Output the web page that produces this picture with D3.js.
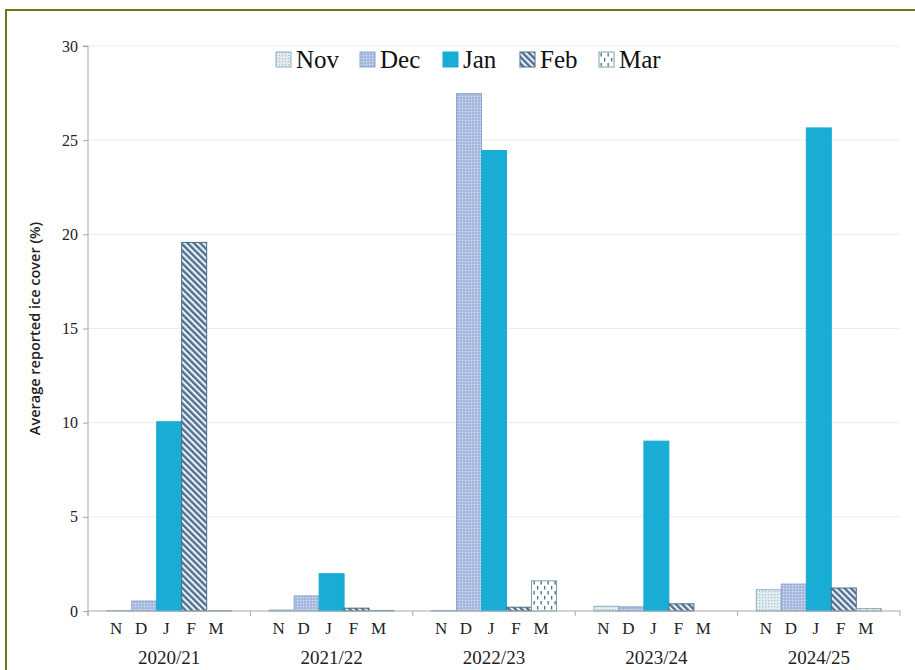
<!DOCTYPE html>
<html>
<head>
<meta charset="utf-8">
<script src="https://cdn.jsdelivr.net/npm/d3@7"></script>
<style>
  html, body { margin: 0; padding: 0; background: #fff; }
  svg { display: block; }
</style>
</head>
<body>
<div id="chart"></div>
<script>
// Winter seasons and the months within each season
const seasons = ["2020/21", "2021/22", "2022/23", "2023/24", "2024/25"];
const months = ["Nov", "Dec", "Jan", "Feb", "Mar"];
const monthLetters = ["N", "D", "J", "F", "M"];

// Average reported ice cover (%) per month, one array per month across seasons
const novValues = [0.02, 0.05, 0.03, 0.25, 1.13];
const decValues = [0.53, 0.8, 27.47, 0.22, 1.43];
const janValues = [10.05, 1.98, 24.45, 9.02, 25.65];
const febValues = [19.57, 0.15, 0.2, 0.38, 1.22];
const marValues = [0.02, 0.03, 1.6, 0.0, 0.12];

const yTicks = [0, 5, 10, 15, 20, 25, 30];

const seriesByMonth = { Nov: novValues, Dec: decValues, Jan: janValues, Feb: febValues, Mar: marValues };

const rows = [];
seasons.forEach((s, i) => {
  months.forEach(m => rows.push({ season: s, month: m, value: seriesByMonth[m][i] }));
});

const W = 915, H = 670;
const plotLeft = 88, plotRight = 900, plotTop = 46, plotBottom = 611;

const svg = d3.select("#chart").append("svg")
  .attr("width", W).attr("height", H);

// Fill patterns for each month
const defs = svg.append("defs");

const pNov = defs.append("pattern").attr("id", "p-Nov")
  .attr("patternUnits", "userSpaceOnUse").attr("width", 3).attr("height", 3);
pNov.append("rect").attr("width", 3).attr("height", 3).attr("fill", "#eef4f7");
pNov.append("rect").attr("x", 0).attr("y", 0).attr("width", 1.3).attr("height", 1.3).attr("fill", "#9dbccb");
pNov.append("rect").attr("x", 1.5).attr("y", 1.5).attr("width", 1.1).attr("height", 1.1).attr("fill", "#c3d6df");

const pDec = defs.append("pattern").attr("id", "p-Dec")
  .attr("patternUnits", "userSpaceOnUse").attr("width", 3).attr("height", 3);
pDec.append("rect").attr("width", 3).attr("height", 3).attr("fill", "#aabde1");
pDec.append("rect").attr("x", 0).attr("y", 0).attr("width", 1.2).attr("height", 1.2).attr("fill", "#d6e0f2");
pDec.append("rect").attr("x", 1.5).attr("y", 1.5).attr("width", 1).attr("height", 1).attr("fill", "#93aad6");

const pFeb = defs.append("pattern").attr("id", "p-Feb")
  .attr("patternUnits", "userSpaceOnUse").attr("width", 4.5).attr("height", 4.5)
  .attr("patternTransform", "rotate(-45)");
pFeb.append("rect").attr("width", 4.5).attr("height", 4.5).attr("fill", "#eef3f7");
pFeb.append("rect").attr("x", 0).attr("y", 0).attr("width", 2.4).attr("height", 4.5).attr("fill", "#4f7090");

const pMar = defs.append("pattern").attr("id", "p-Mar")
  .attr("patternUnits", "userSpaceOnUse").attr("width", 7).attr("height", 10);
pMar.append("rect").attr("width", 7).attr("height", 10).attr("fill", "#ffffff");
pMar.append("rect").attr("x", 1.5).attr("y", 1).attr("width", 1.3).attr("height", 3.5).attr("fill", "#3f7488");
pMar.append("rect").attr("x", 5).attr("y", 6).attr("width", 1.3).attr("height", 3.5).attr("fill", "#3f7488");

const fills = { Nov: "url(#p-Nov)", Dec: "url(#p-Dec)", Jan: "#19acd5", Feb: "url(#p-Feb)", Mar: "url(#p-Mar)" };
const strokes = { Nov: "#8fb0bf", Dec: "#8ea5cf", Jan: "#19acd5", Feb: "#4b6a86", Mar: "#7aa0a8" };

// Outer frame (top and left edges visible)
svg.append("rect")
  .attr("x", 6).attr("y", 10).attr("width", 940).attr("height", 700)
  .attr("fill", "none").attr("stroke", "#677b1c").attr("stroke-width", 2);

// Scales
const y = d3.scaleLinear().domain([0, 30]).range([plotBottom, plotTop]);
const x0 = d3.scaleBand().domain(seasons).range([plotLeft, plotRight]).padding(0);
const x1 = d3.scaleBand().domain(months).range([0, x0.bandwidth()])
  .paddingInner(0).paddingOuter(0.75);

// Gridlines
svg.append("g").selectAll("line")
  .data(yTicks.filter(t => t > 0))
  .join("line")
  .attr("x1", plotLeft).attr("x2", plotRight)
  .attr("y1", d => y(d)).attr("y2", d => y(d))
  .attr("stroke", "#ececec").attr("stroke-width", 1);

// Bars
svg.append("g").selectAll("rect")
  .data(rows)
  .join("rect")
  .attr("x", d => x0(d.season) + x1(d.month))
  .attr("y", d => y(d.value))
  .attr("width", x1.bandwidth())
  .attr("height", d => Math.max(0, plotBottom - y(d.value)))
  .attr("fill", d => fills[d.month])
  .attr("stroke", d => strokes[d.month])
  .attr("stroke-width", 1);

const serif = "'Liberation Serif', 'DejaVu Serif', serif";

// Y axis
const yAxis = svg.append("g")
  .attr("transform", `translate(${plotLeft},0)`)
  .call(d3.axisLeft(y).tickValues(yTicks).tickSize(5).tickPadding(5).tickFormat(d3.format("d")));
yAxis.select(".domain").attr("stroke", "#a8a8a8").attr("d", `M-5,${plotTop}H0V${plotBottom + 5}`);
yAxis.selectAll(".tick line").attr("stroke", "#a8a8a8");
yAxis.selectAll(".tick text")
  .attr("font-family", serif)
  .attr("font-size", 16).attr("fill", "#222");

// X axis: baseline with ticks at season boundaries
const boundaries = seasons.map(s => x0(s)).concat([plotRight]);
svg.append("line")
  .attr("x1", plotLeft).attr("x2", plotRight).attr("y1", plotBottom).attr("y2", plotBottom)
  .attr("stroke", "#a8a8a8");
svg.append("g").selectAll("line")
  .data(boundaries)
  .join("line")
  .attr("x1", d => d).attr("x2", d => d)
  .attr("y1", plotBottom).attr("y2", plotBottom + 5)
  .attr("stroke", "#a8a8a8");

// Month letters under each bar
const monthLabels = [];
seasons.forEach(s => months.forEach((m, j) => monthLabels.push({ season: s, month: m, letter: monthLetters[j] })));
svg.append("g").selectAll("text")
  .data(monthLabels)
  .join("text")
  .attr("x", d => x0(d.season) + x1(d.month) + x1.bandwidth() / 2 - 3)
  .attr("y", 634)
  .attr("text-anchor", "middle")
  .attr("font-family", serif).attr("font-size", 17).attr("fill", "#222")
  .text(d => d.letter);

// Season labels
svg.append("g").selectAll("text")
  .data(seasons)
  .join("text")
  .attr("x", d => x0(d) + x0.bandwidth() / 2)
  .attr("y", 664)
  .attr("text-anchor", "middle")
  .attr("font-family", serif).attr("font-size", 19).attr("fill", "#222")
  .text(d => d);

// Y axis title
svg.append("text")
  .attr("transform", `translate(40,${(plotTop + plotBottom) / 2}) rotate(-90)`)
  .attr("text-anchor", "middle")
  .attr("font-family", "'Open Sans', 'Noto Sans', sans-serif")
  .attr("font-size", 14.5).attr("font-weight", 600).attr("fill", "#222")
  .text("Average reported ice cover (%)");

// Legend
const legendX = [276, 360, 443, 520, 599];
const legend = svg.append("g").selectAll("g")
  .data(months)
  .join("g")
  .attr("transform", (d, i) => `translate(${legendX[i]},52)`);
legend.append("rect")
  .attr("width", 15).attr("height", 15)
  .attr("fill", d => fills[d])
  .attr("stroke", d => strokes[d]);
legend.append("text")
  .attr("x", 20).attr("y", 16)
  .attr("font-family", serif).attr("font-size", 25).attr("fill", "#111")
  .text(d => d);
</script>
</body>
</html>
